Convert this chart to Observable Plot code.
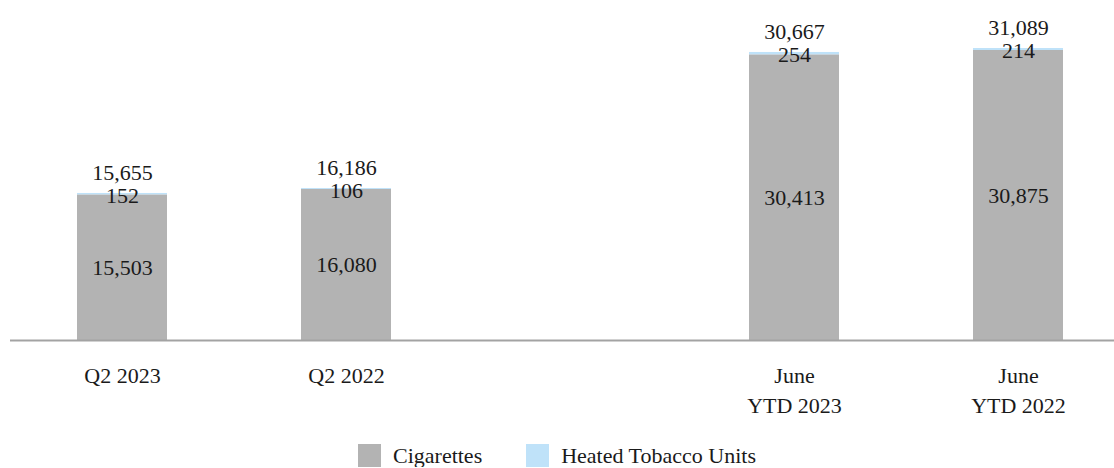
<!DOCTYPE html>
<html>
<head>
<meta charset="utf-8">
<script src="https://cdn.jsdelivr.net/npm/d3@7"></script>
<script src="https://cdn.jsdelivr.net/npm/@observablehq/plot@0.6"></script>
<style>
  body { margin: 0; background: #fff; font-family: "Liberation Serif", "Times New Roman", serif; }
  #chart svg { overflow: visible; display: block; }
  .legend { display: flex; justify-content: center; align-items: center; margin-top: 4px; font-size: 22px; line-height: 23px; color: #1a1a1a; }
  .legend .item { display: flex; align-items: center; margin: 0 22px; }
  .legend .sw { width: 23px; height: 23px; margin-right: 12px; }
</style>
</head>
<body>
<div id="chart"></div>
<script>
const categories = ["Q2 2023", "Q2 2022", "June\nYTD 2023", "June\nYTD 2022"];
const cigarettes = [15503, 16080, 30413, 30875];
const heatedTobacco = [152, 106, 254, 214];
const totals = [15655, 16186, 30667, 31089];
const seriesNames = ["Cigarettes", "Heated Tobacco Units"];
const seriesColors = ["#b3b3b3", "#bfe2f9"];

const GAP = "gap";
const xDomain = [categories[0], categories[1], GAP, categories[2], categories[3]];

const rows = [];
categories.forEach((c, i) => {
  rows.push({cat: c, series: seriesNames[0], value: cigarettes[i]});
  rows.push({cat: c, series: seriesNames[1], value: heatedTobacco[i]});
});
const cigRows = categories.map((c, i) => ({cat: c, value: cigarettes[i]}));
const htuRows = categories.map((c, i) => ({cat: c, value: heatedTobacco[i], top: cigarettes[i] + heatedTobacco[i]}));
const totRows = categories.map((c, i) => ({cat: c, value: totals[i]}));
const fmt = d3.format(",");

const plot = Plot.plot({
  width: 1114,
  height: 440,
  marginLeft: 10,
  marginRight: 0,
  marginTop: 0,
  marginBottom: 100,
  style: {fontFamily: "'Liberation Serif', 'Times New Roman', serif", fontSize: "22px", color: "#1a1a1a", background: "#fff"},
  x: {domain: xDomain, range: [10, 1130], paddingInner: 0.6, paddingOuter: 0.3, label: null},
  y: {domain: [0, totals[3]], range: [340, 48], axis: null},
  color: {domain: seriesNames, range: seriesColors},
  marks: [
    Plot.barY(rows, {x: "cat", y: "value", fill: "series", order: seriesNames}),
    Plot.ruleY([0], {stroke: "#a3a3a3", strokeWidth: 2}),
    Plot.axisX({tickSize: 0, tickPadding: 21, fontSize: 22, lineHeight: 1.36, fill: "#1a1a1a",
      tickFormat: d => d === GAP ? "" : d}),
    Plot.text(cigRows, {x: "cat", y: d => d.value / 2, text: d => fmt(d.value), fontSize: 22, fill: "#1a1a1a"}),
    Plot.text(htuRows, {x: "cat", y: "top", text: d => fmt(d.value), fontSize: 22, dy: 2, fill: "#1a1a1a"}),
    Plot.text(totRows, {x: "cat", y: "value", text: d => fmt(d.value), fontSize: 22, dy: -21, fill: "#1a1a1a"})
  ]
});
document.getElementById("chart").appendChild(plot);

const legend = document.createElement("div");
legend.className = "legend";
seriesNames.forEach((n, i) => {
  const item = document.createElement("div");
  item.className = "item";
  const sw = document.createElement("span");
  sw.className = "sw";
  sw.style.background = seriesColors[i];
  const label = document.createElement("span");
  label.textContent = n;
  item.appendChild(sw);
  item.appendChild(label);
  legend.appendChild(item);
});
document.getElementById("chart").appendChild(legend);
</script>
</body>
</html>
